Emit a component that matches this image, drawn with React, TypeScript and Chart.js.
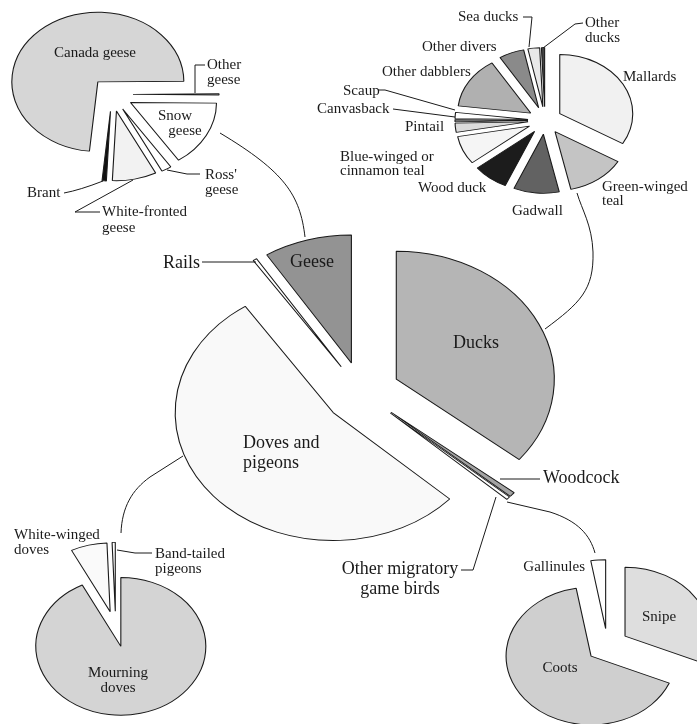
import React, { useEffect, useRef } from 'react';
import { Chart, registerables } from 'chart.js';
Chart.register(...registerables);

const W = 697;
const H = 724;
const SQUASH = 0.81;

// ---------- data ----------
const mainCategories = ['Ducks', 'Woodcock', 'Other migratory game birds', 'Doves and pigeons', 'Rails', 'Geese'];
const mainValues = [35.8, 0.6, 0.4, 53.8, 0.4, 9.0];

const geeseCategories = ['Other geese', 'Snow geese', "Ross' geese", 'White-fronted geese', 'Brant', 'Canada geese'];
const geeseValues = [0.3, 15.4, 1.9, 8.3, 0.8, 73.3];

const duckCategories = ['Mallards', 'Green-winged teal', 'Gadwall', 'Wood duck', 'Blue-winged or cinnamon teal', 'Pintail', 'Canvasback', 'Scaup', 'Other dabblers', 'Other divers', 'Sea ducks', 'Other ducks'];
const duckValues = [33.5, 13.1, 10.1, 7.8, 7.8, 2.5, 0.6, 1.7, 14.2, 5.6, 2.6, 0.7];

const doveCategories = ['Mourning doves', 'White-winged doves', 'Band-tailed pigeons'];
const doveValues = [92.5, 6.9, 0.6];

const otherCategories = ['Snipe', 'Coots', 'Gallinules'];
const otherValues = [31.4, 65.8, 2.8];

// ---------- styles ----------
const mainColors = ['#b5b5b5', '#a3a3a3', '#ffffff', '#f9f9f9', '#ffffff', '#939393'];
const geeseColors = ['#ffffff', '#ffffff', '#ffffff', '#f2f2f2', '#111111', '#d6d6d6'];
const duckColors = ['#f1f1f1', '#c4c4c4', '#626262', '#1c1c1c', '#f5f5f5', '#dcdcdc', '#8a8a8a', '#ffffff', '#b0b0b0', '#8a8a8a', '#e8e8e8', '#444444'];
const doveColors = ['#d4d4d4', '#fafafa', '#ffffff'];
const otherColors = ['#dedede', '#cfcfcf', '#ffffff'];

type PieSpec = {
  labels: string[];
  values: number[];
  colors: string[];
  cx: number;
  cy: number;
  r: number;
  d: number;
  rotation: number;
};

const pies: PieSpec[] = [
  { labels: geeseCategories, values: geeseValues, colors: geeseColors, cx: 112, cy: 94.4, r: 86, d: 21, rotation: 89.5 },
  { labels: duckCategories, values: duckValues, colors: duckColors, cx: 545, cy: 120.5, r: 73, d: 17, rotation: 0 },
  { labels: doveCategories, values: doveValues, colors: doveColors, cx: 115.7, cy: 629, r: 85, d: 22, rotation: 0 },
  { labels: otherCategories, values: otherValues, colors: otherColors, cx: 607.5, cy: 645.5, r: 85, d: 21, rotation: 0 },
  { labels: mainCategories, values: mainValues, colors: mainColors, cx: 362, cy: 392.5, r: 158, d: 38, rotation: 0 },
];

type Lbl = { lines: string[]; x: number; y: number; align: CanvasTextAlign; size: number; lh?: number };
const BIG = 18;
const SM = 15;
const textLabels: Lbl[] = [
  { lines: ['Geese'], x: 312, y: 262, align: 'center', size: BIG },
  { lines: ['Ducks'], x: 476, y: 343, align: 'center', size: BIG },
  { lines: ['Doves and', 'pigeons'], x: 243, y: 443, align: 'left', size: BIG, lh: 20 },
  { lines: ['Rails'], x: 200, y: 263, align: 'right', size: BIG },
  { lines: ['Woodcock'], x: 543, y: 478, align: 'left', size: BIG },
  { lines: ['Other migratory', 'game birds'], x: 400, y: 569, align: 'center', size: BIG, lh: 20 },

  { lines: ['Canada geese'], x: 95, y: 53, align: 'center', size: SM },
  { lines: ['Other', 'geese'], x: 207, y: 65, align: 'left', size: SM, lh: 15 },
  { lines: ['Snow'], x: 175, y: 116, align: 'center', size: SM },
  { lines: ['geese'], x: 185, y: 131, align: 'center', size: SM },
  { lines: ["Ross'", 'geese'], x: 205, y: 175, align: 'left', size: SM, lh: 15 },
  { lines: ['Brant'], x: 27, y: 193, align: 'left', size: SM },
  { lines: ['White-fronted', 'geese'], x: 102, y: 212, align: 'left', size: SM, lh: 16 },

  { lines: ['Sea ducks'], x: 458, y: 17, align: 'left', size: SM },
  { lines: ['Other', 'ducks'], x: 585, y: 23, align: 'left', size: SM, lh: 15 },
  { lines: ['Other divers'], x: 422, y: 47, align: 'left', size: SM },
  { lines: ['Other dabblers'], x: 382, y: 72, align: 'left', size: SM },
  { lines: ['Mallards'], x: 623, y: 77, align: 'left', size: SM },
  { lines: ['Scaup'], x: 343, y: 91, align: 'left', size: SM },
  { lines: ['Canvasback'], x: 317, y: 109, align: 'left', size: SM },
  { lines: ['Pintail'], x: 405, y: 127, align: 'left', size: SM },
  { lines: ['Blue-winged or', 'cinnamon teal'], x: 340, y: 157, align: 'left', size: SM, lh: 14 },
  { lines: ['Wood duck'], x: 418, y: 188, align: 'left', size: SM },
  { lines: ['Gadwall'], x: 512, y: 211, align: 'left', size: SM },
  { lines: ['Green-winged', 'teal'], x: 602, y: 187, align: 'left', size: SM, lh: 14 },

  { lines: ['White-winged', 'doves'], x: 14, y: 535, align: 'left', size: SM, lh: 15 },
  { lines: ['Band-tailed', 'pigeons'], x: 155, y: 554, align: 'left', size: SM, lh: 15 },
  { lines: ['Mourning', 'doves'], x: 118, y: 673, align: 'center', size: SM, lh: 15 },

  { lines: ['Gallinules'], x: 585, y: 567, align: 'right', size: SM },
  { lines: ['Snipe'], x: 659, y: 617, align: 'center', size: SM },
  { lines: ['Coots'], x: 560, y: 668, align: 'center', size: SM },
];

const connectors: string[] = [
  'M305 237 C300 195 285 172 220 133',
  'M545 329 C580 303 594 290 593 252 C592 225 582 210 577 193',
  'M183 456 L150 477 C132 490 122 507 121 533',
  'M507 502 L550 512 C578 521 590 535 595 553',
  'M500 479 L540 479',
  'M461 570 L473 570 L496 497',
  'M202 262 L256 262',
  'M205 65 L195 65 L195 93',
  'M167 170 L187 174 L200 174',
  'M64 193 Q80 190 103 181',
  'M100 212 L75 212 L133 180',
  'M523 17 L532 17 L529 47',
  'M583 23 L575 24 L543 48',
  'M378 90 L385 90 L455 110',
  'M393 109 L455 117',
  'M117 550 L135 553 L152 553',
];

const FONT = '"Liberation Serif", "Times New Roman", Times, serif';

function makePie(canvas: HTMLCanvasElement, spec: PieSpec, withLabels: boolean) {
  const { cx, cy, r, d } = spec;
  const padX = cx < W / 2 ? { left: 0, right: W - 2 * cx } : { left: 2 * cx - W, right: 0 };
  const padY = cy < H / 2 ? { top: 0, bottom: H - 2 * cy } : { top: 2 * cy - H, bottom: 0 };

  const explode = {
    id: 'explodeSquash',
    beforeDatasetsDraw(chart: any) {
      const ca = chart.chartArea;
      const ox = (ca.left + ca.right) / 2;
      const oy = (ca.top + ca.bottom) / 2;
      const meta = chart.getDatasetMeta(0);
      meta.data.forEach((arc: any) => {
        const mid = (arc.startAngle + arc.endAngle) / 2;
        arc.x = ox + Math.cos(mid) * d;
        arc.y = oy + Math.sin(mid) * d;
      });
      const ctx = chart.ctx;
      ctx.save();
      ctx.translate(0, oy);
      ctx.scale(1, SQUASH);
      ctx.translate(0, -oy);
    },
    afterDatasetsDraw(chart: any) {
      chart.ctx.restore();
    },
  };

  const labelsPlugin = {
    id: 'annot',
    afterDraw(chart: any) {
      const ctx = chart.ctx as CanvasRenderingContext2D;
      ctx.save();
      ctx.strokeStyle = '#1a1a1a';
      ctx.lineWidth = 1;
      connectors.forEach((p) => ctx.stroke(new Path2D(p)));
      ctx.fillStyle = '#1a1a1a';
      ctx.textBaseline = 'middle';
      textLabels.forEach((l) => {
        ctx.font = `${l.size}px ${FONT}`;
        ctx.textAlign = l.align;
        l.lines.forEach((t, i) => ctx.fillText(t, l.x, l.y + i * (l.lh || l.size)));
      });
      ctx.restore();
    },
  };

  return new Chart(canvas, {
    type: 'pie',
    data: {
      labels: spec.labels,
      datasets: [
        {
          data: spec.values,
          backgroundColor: spec.colors,
          borderColor: '#1a1a1a',
          borderWidth: 1.1,
          radius: r,
          clip: false,
        } as any,
      ],
    },
    options: {
      responsive: false,
      animation: false,
      events: [],
      rotation: spec.rotation,
      layout: { padding: { ...padX, ...padY } },
      plugins: { legend: { display: false }, tooltip: { enabled: false } },
    } as any,
    plugins: withLabels ? [explode, labelsPlugin] : [explode],
  });
}

export default function App() {
  const r0 = useRef<HTMLCanvasElement>(null);
  const r1 = useRef<HTMLCanvasElement>(null);
  const r2 = useRef<HTMLCanvasElement>(null);
  const r3 = useRef<HTMLCanvasElement>(null);
  const r4 = useRef<HTMLCanvasElement>(null);
  const refs = [r0, r1, r2, r3, r4];

  useEffect(() => {
    const charts = pies.map((s, i) => makePie(refs[i].current as HTMLCanvasElement, s, i === pies.length - 1));
    return () => charts.forEach((c) => c.destroy());
  }, []);

  return (
    <div style={{ position: 'absolute', left: 0, top: 0, width: W, height: H, background: '#fff', overflow: 'hidden' }}>
      {refs.map((ref, i) => (
        <canvas key={i} ref={ref} width={W} height={H} style={{ position: 'absolute', left: 0, top: 0 }} />
      ))}
    </div>
  );
}
